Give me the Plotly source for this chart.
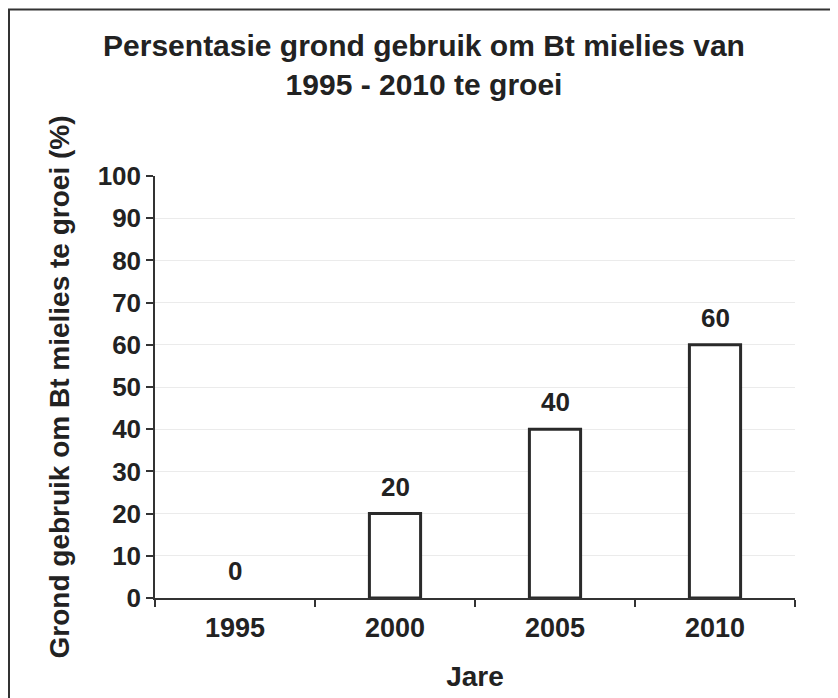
import plotly.graph_objects as go

years = ["1995", "2000", "2005", "2010"]
values = [0, 20, 40, 60]
y_ticks = [0, 10, 20, 30, 40, 50, 60, 70, 80, 90, 100]

title_text = "Persentasie grond gebruik om Bt mielies van<br>1995 - 2010 te groei"
x_title = "Jare"
y_title = "Grond gebruik om Bt mielies te groei (%)"

FONT = "Liberation Sans, Arial, sans-serif"
INK = "#222222"

# page has an 8px body margin, so the figure is 8px smaller than the window
W, H = 830, 690
L, R, T, B = 147, 43, 168, 100
pw, ph = W - L - R, H - T - B


def px_x(x):
    return (x - L) / pw


def px_y(y):
    return (H - B - y) / ph


fig = go.Figure(
    go.Bar(
        x=years,
        y=values,
        width=0.32,
        marker=dict(
            color="white",
            line=dict(color="#2a2a2a", width=[0 if v == 0 else 3 for v in values]),
        ),
        cliponaxis=False,
        hoverinfo="x+y",
    )
)

# value labels, placed at each category index and bar height
for i, v in enumerate(values):
    fig.add_annotation(
        x=i,
        y=v,
        xref="x",
        yref="y",
        text="<b>%d</b>" % v,
        showarrow=False,
        yanchor="bottom",
        yshift=10,
        font=dict(family=FONT, size=26, color=INK),
    )

fig.update_layout(
    width=W,
    height=H,
    margin=dict(l=L, r=R, t=T, b=B, autoexpand=False),
    paper_bgcolor="white",
    plot_bgcolor="white",
    showlegend=False,
    font=dict(family=FONT, color=INK),
    title=dict(
        text="<b>" + title_text + "</b>",
        x=416 / W,
        xref="container",
        xanchor="center",
        y=1 - 48 / H,
        yanchor="top",
        font=dict(family=FONT, size=30, color=INK),
    ),
)

fig.update_xaxes(
    type="category",
    categoryorder="array",
    categoryarray=years,
    range=[-0.5, len(years) - 0.5],
    tickson="boundaries",
    ticks="outside",
    ticklen=7,
    tickwidth=1.5,
    tickcolor="#333",
    showline=True,
    linecolor="#333",
    linewidth=1.5,
    showgrid=False,
    tickangle=0,
    tickfont=dict(family=FONT, size=27, color=INK),
    tickprefix="<b>",
    ticksuffix="</b>",
    ticklabelstandoff=5,
    title=dict(text="<b>" + x_title + "</b>", font=dict(family=FONT, size=28, color=INK), standoff=24),
)

fig.update_yaxes(
    range=[0, 100],
    tickvals=y_ticks,
    ticktext=["<b>%d</b>" % v for v in y_ticks],
    ticks="outside",
    ticklen=7,
    tickwidth=1.5,
    tickcolor="#333",
    showline=True,
    linecolor="#333",
    linewidth=1.5,
    showgrid=True,
    gridcolor="#ebebeb",
    gridwidth=1,
    zeroline=False,
    tickfont=dict(family=FONT, size=26, color=INK),
    title=dict(text="<b>" + y_title + "</b>", font=dict(family=FONT, size=28, color=INK), standoff=20),
)

# outer frame
fig.add_shape(
    type="rect",
    xref="paper",
    yref="paper",
    x0=px_x(1),
    x1=px_x(850),
    y0=px_y(710),
    y1=px_y(1.5),
    line=dict(color="#333", width=2),
    fillcolor="rgba(0,0,0,0)",
    layer="below",
)

fig.write_html("out.html")
